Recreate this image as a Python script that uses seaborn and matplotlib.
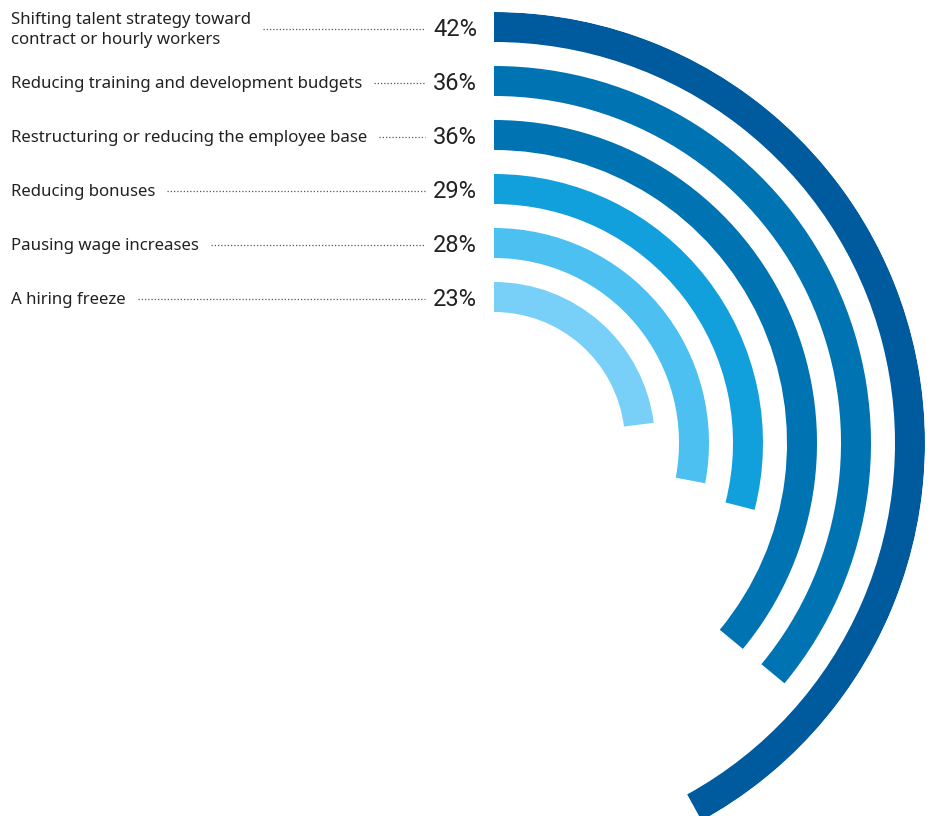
import numpy as np
import matplotlib
matplotlib.use('Agg')
import matplotlib.pyplot as plt
import seaborn as sns

sns.set_style('white')
plt.rcParams['font.family'] = ['Noto Sans', 'DejaVu Sans']

labels = ['Shifting talent strategy toward\ncontract or hourly workers',
          'Reducing training and development budgets',
          'Restructuring or reducing the employee base',
          'Reducing bonuses',
          'Pausing wage increases',
          'A hiring freeze']
values = [42, 36, 36, 29, 28, 23]
colors = ['#005A9E', '#0073B2', '#0073B2', '#12A0DC', '#4CC1F1', '#78D0F8']

W, H = 932, 816
cx, cy = 494, 443          # centre of the rings, pixels
r_out, step, thick = 431, 54, 30

fig = plt.figure(figsize=(W / 100, H / 100), dpi=100)

# polar axes for the rings, square, centred on (cx, cy)
ax = fig.add_axes([(cx - r_out) / W, (H - cy - r_out) / H, 2 * r_out / W, 2 * r_out / H],
                  projection='polar')
ax.set_theta_zero_location('N')
ax.set_theta_direction(-1)
ax.set_ylim(0, r_out)
ax.axis('off')

for i, (v, c) in enumerate(zip(values, colors)):
    ang = np.deg2rad(v / 100 * 360)
    ax.bar(ang / 2, thick, width=ang, bottom=r_out - step * i - thick,
           color=c, edgecolor='none', align='center')

# overlay for labels, pixel coordinates
tx = fig.add_axes([0, 0, 1, 1])
tx.set_xlim(0, W)
tx.set_ylim(H, 0)
tx.axis('off')

fig.canvas.draw()
rend = fig.canvas.get_renderer()
for i, (lab, v) in enumerate(zip(labels, values)):
    y = cy - (r_out - step * i - thick / 2) + 2
    t = tx.text(11, y + 1, lab, fontsize=12.1, color='#222222', va='center', ha='left',
                linespacing=1.3)
    tx.text(477, y + 1, f'{v}%', fontsize=17, color='#222222', va='center', ha='right',
            family=['Roboto', 'DejaVu Sans'])
    bb = t.get_window_extent(rend)
    x0 = bb.x1 + 12
    tx.plot([x0, 425], [y, y], color='#555555', lw=0.9, ls=(0, (1, 1.6)))

fig.savefig('out.png', dpi=100)
